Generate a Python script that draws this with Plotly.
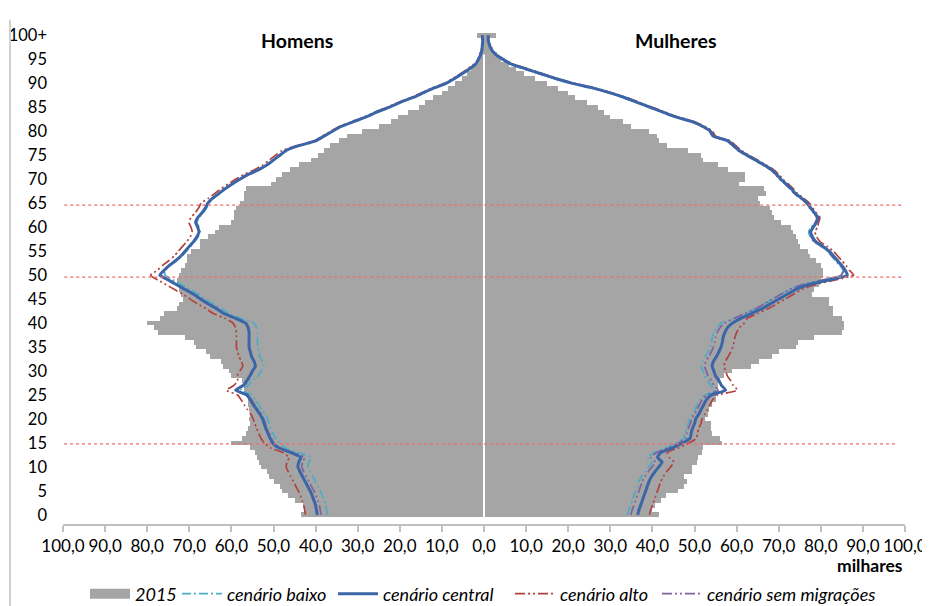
import plotly.graph_objects as go

# ---------------- data (thousands) ----------------
ages = list(range(101))
age_ticks = [0, 5, 10, 15, 20, 25, 30, 35, 40, 45, 50, 55, 60, 65, 70, 75, 80, 85, 90, 95, 100]
age_labels = ["0", "5", "10", "15", "20", "25", "30", "35", "40", "45", "50", "55", "60", "65",
              "70", "75", "80", "85", "90", "95", "100+"]
x_ticks = [-100, -90, -80, -70, -60, -50, -40, -30, -20, -10, 0, 10, 20, 30, 40, 50, 60, 70, 80, 90, 100]
x_labels = ["100,0", "90,0", "80,0", "70,0", "60,0", "50,0", "40,0", "30,0", "20,0", "10,0", "0,0",
            "10,0", "20,0", "30,0", "40,0", "50,0", "60,0", "70,0", "80,0", "90,0", "100,0"]

men_2015 = [43.5, 42.5, 43.0, 45.0, 46.5, 48.0, 48.5, 50.0, 51.0, 51.5,
            53.0, 53.5, 54.0, 54.5, 55.5, 60.0, 57.5, 56.5, 56.0, 55.5,
            55.8, 55.5, 55.8, 56.0, 56.0, 56.5, 57.0, 57.0, 57.5, 60.0,
            60.5, 62.0, 62.5, 65.0, 66.0, 68.5, 69.0, 71.0, 77.5, 78.5,
            80.0, 77.0, 76.0, 73.0, 72.5, 71.5, 72.0, 72.5, 73.0, 73.0,
            72.5, 72.0, 71.0, 70.5, 70.5, 69.5, 67.5, 67.5, 65.5, 64.0,
            63.0, 60.0, 59.5, 59.5, 59.0, 58.0, 57.0, 57.0, 56.5, 50.5,
            49.5, 48.0, 46.0, 44.0, 41.0, 39.5, 38.0, 36.5, 34.5, 32.5,
            29.0, 25.0, 22.0, 20.5, 18.0, 15.5, 14.0, 12.0, 10.0, 8.5,
            7.0, 5.2, 4.0, 3.0, 2.2, 1.6, 1.1, 0.8, 0.5, 0.4, 1.6]

women_2015 = [41.6, 40.0, 40.5, 42.0, 43.2, 46.0, 47.5, 48.3, 47.5, 49.5,
              49.5, 50.5, 50.8, 51.8, 52.0, 56.5, 56.0, 54.2, 54.0, 54.0,
              52.6, 53.2, 53.5, 54.2, 55.0, 55.0, 55.0, 55.5, 56.0, 57.0,
              59.0, 63.5, 65.3, 68.5, 70.0, 74.0, 74.5, 78.5, 85.0, 85.5,
              85.5, 85.0, 83.0, 83.0, 82.0, 82.0, 78.0, 78.5, 79.5, 80.0,
              80.5, 80.5, 80.0, 78.8, 77.5, 77.0, 75.0, 74.5, 74.0, 73.5,
              73.0, 70.5, 69.0, 68.5, 68.0, 65.5, 65.0, 67.0, 66.5, 60.5,
              62.0, 62.0, 58.0, 55.5, 52.0, 51.5, 48.5, 43.5, 41.5, 41.0,
              39.2, 35.0, 33.0, 30.0, 28.5, 27.0, 24.5, 21.5, 20.0, 17.5,
              15.0, 12.0, 9.5, 7.5, 6.0, 4.0, 3.0, 2.2, 1.6, 1.1, 2.9]

men_central = [39.6, 39.8, 40.0, 40.4, 40.8, 41.3, 41.9, 42.5, 43.1, 43.7,
               44.2, 44.0, 43.5, 45.8, 48.8, 50.2, 50.8, 51.3, 51.8, 52.2,
               52.6, 53.2, 54.0, 54.8, 55.5, 56.3, 59.0, 57.2, 56.3, 55.6,
               55.0, 54.3, 54.6, 55.2, 55.5, 55.8, 55.8, 55.8, 55.8, 56.0,
               56.6, 59.0, 61.8, 63.5, 65.5, 67.3, 69.0, 71.0, 73.0, 75.0,
               77.0, 76.0, 74.8, 73.3, 72.0, 71.0, 70.0, 69.0, 68.2, 67.7,
               68.0, 68.5, 68.0, 67.0, 66.2, 65.6, 64.5, 63.0, 61.5, 59.8,
               58.0, 56.0, 53.5, 51.5, 50.0, 48.5, 47.0, 44.0, 40.0, 38.0,
               36.0, 34.0, 31.0, 28.0, 25.5, 22.6, 20.0, 17.0, 14.5, 12.0,
               9.0, 7.0, 5.2, 3.5, 2.0, 1.3, 0.8, 0.5, 0.4, 0.3, 0.4]

men_baixo = [37.2, 37.4, 37.6, 38.0, 38.4, 38.9, 39.5, 40.1, 40.7, 41.3,
             41.8, 41.6, 41.1, 44.2, 47.2, 48.6, 49.6, 50.1, 50.6, 51.0,
             51.4, 52.0, 52.8, 53.6, 54.3, 55.1, 57.8, 56.0, 55.1, 53.6,
             53.0, 52.3, 52.6, 53.2, 53.5, 53.8, 53.8, 53.8, 53.8, 54.0,
             54.6, 57.8, 60.6, 62.3, 64.3, 66.1, 67.8, 69.8, 71.8, 73.8,
             75.8, 75.7, 74.5, 73.0, 71.7, 70.7, 69.7, 68.7, 67.9, 67.4,
             67.7, 68.2, 67.7, 66.7, 65.9, 65.3, 64.4, 62.9, 61.4, 59.7,
             57.9, 55.9, 53.4, 51.4, 49.9, 48.4, 46.9, 43.9, 39.9, 37.9,
             35.9, 33.9, 30.9, 27.9, 25.4, 22.5, 19.9, 16.9, 14.4, 11.9,
             8.9, 6.9, 5.1, 3.4, 1.9, 1.2, 0.7, 0.5, 0.4, 0.3, 0.4]

men_alto = [42.4, 42.6, 42.8, 43.2, 43.6, 44.1, 44.7, 45.3, 45.9, 46.5,
            47.0, 46.8, 46.3, 47.8, 50.8, 52.2, 53.0, 53.5, 54.0, 54.4,
            54.8, 55.4, 56.2, 57.0, 57.7, 58.5, 61.2, 59.4, 58.5, 58.6,
            58.0, 57.3, 57.6, 58.2, 58.5, 58.8, 58.8, 58.8, 58.8, 59.0,
            59.6, 61.5, 64.3, 66.0, 68.0, 69.8, 71.5, 73.5, 75.5, 77.5,
            79.2, 77.6, 76.4, 74.9, 73.6, 72.6, 71.6, 70.6, 69.8, 69.3,
            69.6, 70.1, 69.6, 68.6, 67.8, 67.2, 65.5, 64.0, 62.5, 60.8,
            59.0, 57.0, 54.5, 52.5, 51.0, 49.5, 48.0, 44.4, 40.4, 38.4,
            36.4, 34.4, 31.4, 28.4, 25.9, 23.0, 20.4, 17.4, 14.9, 12.4,
            9.4, 7.4, 5.6, 3.9, 2.4, 1.4, 0.9, 0.6, 0.5, 0.4, 0.5]

men_sem_migr = [38.7, 38.9, 39.1, 39.5, 39.9, 40.4, 41.0, 41.6, 42.2, 42.8,
                43.3, 43.1, 42.6, 45.5, 48.5, 49.9, 50.5, 51.0, 51.5, 51.9,
                52.3, 52.9, 53.7, 54.5, 55.2, 56.0, 58.7, 56.9, 56.0, 55.6,
                55.0, 54.3, 54.6, 55.2, 55.5, 55.8, 55.8, 55.8, 55.8, 56.0,
                56.6, 58.7, 61.5, 63.2, 65.2, 67.0, 68.7, 70.7, 72.7, 74.7,
                76.7, 76.0, 74.8, 73.3, 72.0, 71.0, 70.0, 69.0, 68.2, 67.7,
                68.0, 68.5, 68.0, 67.0, 66.2, 65.6, 64.5, 63.0, 61.5, 59.8,
                58.0, 56.0, 53.5, 51.5, 50.0, 48.5, 47.0, 44.0, 40.0, 38.0,
                36.0, 34.0, 31.0, 28.0, 25.5, 22.6, 20.0, 17.0, 14.5, 12.0,
                9.0, 7.0, 5.2, 3.5, 2.0, 1.3, 0.8, 0.5, 0.4, 0.3, 0.4]

women_central = [36.5, 36.8, 37.2, 37.6, 38.0, 38.4, 38.8, 39.2, 39.8, 40.6,
                 41.5, 42.3, 41.2, 42.0, 44.8, 47.2, 49.0, 49.2, 49.5, 50.0,
                 50.3, 51.0, 51.6, 52.2, 52.8, 54.0, 57.4, 56.4, 55.8, 55.0,
                 54.6, 54.2, 54.5, 55.2, 55.8, 56.3, 56.6, 56.8, 57.2, 57.8,
                 59.0, 61.0, 63.5, 66.0, 68.0, 70.0, 72.0, 74.0, 77.0, 82.0,
                 86.3, 85.8, 85.0, 84.0, 83.0, 82.0, 80.5, 78.8, 78.0, 77.6,
                 78.2, 79.0, 79.3, 78.5, 77.6, 76.8, 75.5, 74.0, 73.0, 71.8,
                 70.5, 69.5, 68.3, 66.5, 64.5, 62.5, 60.6, 59.3, 58.0, 54.5,
                 53.8, 52.0, 49.5, 45.5, 42.5, 39.5, 36.5, 33.5, 30.0, 26.0,
                 21.0, 17.0, 13.5, 10.0, 6.5, 4.5, 2.8, 1.8, 1.3, 1.0, 1.0]

women_baixo = [34.1, 34.4, 34.8, 35.2, 35.6, 36.0, 36.4, 36.8, 37.4, 38.2,
               39.1, 39.9, 38.8, 40.5, 43.3, 45.7, 47.5, 47.7, 48.0, 48.5,
               48.8, 49.5, 50.1, 50.7, 51.3, 52.5, 54.8, 53.8, 53.2, 52.4,
               52.0, 51.6, 51.9, 52.6, 53.2, 53.7, 54.0, 54.2, 54.6, 55.2,
               56.4, 59.5, 62.0, 64.5, 66.5, 68.5, 70.5, 72.5, 75.5, 80.5,
               84.8, 85.3, 84.5, 83.5, 82.5, 81.5, 80.0, 78.3, 77.5, 77.1,
               77.7, 78.8, 79.1, 78.3, 77.4, 76.6, 75.3, 73.8, 72.8, 71.6,
               70.3, 69.3, 68.1, 66.3, 64.3, 62.3, 60.4, 59.1, 57.8, 54.3,
               53.6, 51.8, 49.3, 45.3, 42.3, 39.3, 36.3, 33.3, 29.8, 25.8,
               20.8, 16.8, 13.3, 9.8, 6.3, 4.3, 2.7, 1.7, 1.2, 1.0, 1.0]

women_alto = [39.3, 39.6, 40.0, 40.4, 40.8, 41.2, 41.6, 42.0, 42.6, 43.4,
              44.3, 45.1, 44.0, 43.5, 46.3, 48.7, 50.5, 50.7, 51.0, 51.5,
              51.8, 52.5, 53.1, 53.7, 54.3, 55.5, 60.2, 59.2, 58.6, 57.8,
              57.4, 57.0, 57.3, 58.0, 58.6, 59.1, 59.4, 59.6, 60.0, 60.6,
              61.8, 62.5, 65.0, 67.5, 69.5, 71.5, 73.5, 75.5, 78.5, 83.5,
              87.8, 86.8, 86.0, 85.0, 84.0, 83.0, 81.5, 79.8, 79.0, 78.6,
              79.2, 79.5, 79.8, 79.0, 78.1, 77.3, 76.0, 74.5, 73.5, 72.3,
              71.0, 70.0, 68.8, 67.0, 65.0, 63.0, 61.1, 59.8, 58.5, 55.0,
              54.3, 52.5, 50.0, 46.0, 43.0, 40.0, 37.0, 34.0, 30.5, 26.5,
              21.5, 17.5, 14.0, 10.5, 7.0, 4.8, 3.0, 1.9, 1.4, 1.1, 1.1]

women_sem_migr = [34.9, 35.2, 35.6, 36.0, 36.4, 36.8, 37.2, 37.6, 38.2, 39.0,
                  39.9, 40.7, 39.6, 41.0, 43.8, 46.2, 48.0, 48.2, 48.5, 49.0,
                  49.3, 50.0, 50.6, 51.2, 51.8, 53.0, 55.6, 54.6, 54.0, 53.2,
                  52.8, 52.4, 52.7, 53.4, 54.0, 54.5, 54.8, 55.0, 55.4, 56.0,
                  57.2, 59.5, 62.0, 64.5, 66.5, 68.5, 70.5, 72.5, 75.5, 80.5,
                  84.8, 85.5, 84.7, 83.7, 82.7, 81.7, 80.2, 78.5, 77.7, 77.3,
                  77.9, 78.7, 79.0, 78.2, 77.3, 76.5, 75.2, 73.7, 72.7, 71.5,
                  70.2, 69.2, 68.0, 66.2, 64.2, 62.2, 60.3, 59.0, 57.7, 54.2,
                  53.5, 51.7, 49.2, 45.2, 42.2, 39.2, 36.2, 33.2, 29.7, 25.7,
                  20.7, 16.7, 13.2, 9.7, 6.2, 4.3, 2.7, 1.7, 1.2, 1.0, 1.0]

# ---------------- styling ----------------
FONT = "Lato"
GRAY = "#A5A5A5"
C_BAIXO = "#4BACC6"
C_CENTRAL = "#3B65A7"
C_ALTO = "#B3413D"
C_SEM = "#7F63A1"

# the page body adds an 8px offset; the figure is sized so the plot area lands on
# screen x 63..905 and y 33..524
PLOT_L, PLOT_W = 63, 842   # plot area left edge and width in screen pixels


def both_sides(men, women):
    return [-v for v in men] + [None] + list(women), ages + [None] + ages


def px_to_paper(px):
    return (px - PLOT_L) / PLOT_W


fig = go.Figure()

# 2015 bars (men to the left, women to the right)
fig.add_trace(go.Bar(
    y=ages + ages, x=[-v for v in men_2015] + women_2015, orientation="h",
    width=1, marker=dict(color=GRAY, line=dict(width=0)),
    name="2015", showlegend=False, hoverinfo="skip"))

# legend swatch for 2015 (wide flat gray box like the original)
fig.add_trace(go.Scatter(x=[None], y=[None], mode="lines", name="2015",
                         line=dict(color=GRAY, width=12), legend="legend"))

scen = [
    ("cenário baixo", men_baixo, women_baixo, C_BAIXO, "9px,3px,2px,3px", 1.7, "legend2"),
    ("cenário alto", men_alto, women_alto, C_ALTO, "10px,3px,2px,3px,2px,3px", 1.7, "legend4"),
    ("cenário sem migrações", men_sem_migr, women_sem_migr, C_SEM, "10px,3px,2px,3px,2px,3px", 1.7, "legend5"),
    ("cenário central", men_central, women_central, C_CENTRAL, "solid", 3.0, "legend3"),
]
for name, m, w, col, dash, lw, leg in scen:
    xs, ys = both_sides(m, w)
    fig.add_trace(go.Scatter(
        x=xs, y=ys, mode="lines", name=name, legend=leg,
        line=dict(color=col, width=lw, dash=dash, shape="spline", smoothing=0.5),
        connectgaps=False, hoverinfo="skip"))

shapes = []
# white separation line in the middle of the bars
shapes.append(dict(type="line", xref="x", yref="y", x0=0, x1=0, y0=-0.5, y1=96,
                   line=dict(color="white", width=2), layer="above"))
# red dotted reference lines
for yv, xa, xb in [(64.6, -99.7, 99.3), (49.6, -99.7, 99.3), (14.8, -101.2, 97.9)]:
    shapes.append(dict(type="line", xref="x", yref="y", x0=xa, x1=xb, y0=yv, y1=yv,
                       line=dict(color="#F26B6B", width=1.2, dash="dot"), layer="above"))
# outer frame line on the left
shapes.append(dict(type="line", xref="paper", yref="paper", x0=px_to_paper(10), x1=px_to_paper(10),
                   y0=-0.2, y1=1.027, line=dict(color="#D0D0D0", width=2)))

annotations = [
    dict(text="<b>Homens</b>", x=-44.4, y=99.0, xref="x", yref="y", showarrow=False,
         font=dict(family=FONT, size=19.5, color="#000000")),
    dict(text="<b>Mulheres</b>", x=45.4, y=99.0, xref="x", yref="y", showarrow=False,
         font=dict(family=FONT, size=19.5, color="#000000")),
    dict(text="<b>milhares</b>", x=1.0, y=-0.085, xref="paper", yref="paper",
         xanchor="right", yanchor="middle", showarrow=False,
         font=dict(family=FONT, size=17.5, color="#000000")),
]

FIG_W, FIG_H = 922, 598
legend_font = dict(family=FONT, size=18, color="#000000", style="italic")
leg_y = 1 - (594 - 8) / FIG_H


def legend_at(px):
    return dict(orientation="h", x=px_to_paper(px - 5), xanchor="left", xref="paper",
                y=leg_y, yanchor="middle", yref="container",
                font=legend_font, itemwidth=40, bgcolor="rgba(0,0,0,0)",
                borderwidth=0)


fig.update_layout(
    width=FIG_W, height=FIG_H,
    margin=dict(l=55, r=25, t=25, b=82, autoexpand=False),
    paper_bgcolor="white", plot_bgcolor="white",
    barmode="overlay", bargap=0,
    font=dict(family=FONT, size=16, color="#000000"),
    shapes=shapes, annotations=annotations,
    showlegend=True,
    legend=legend_at(90),
    legend2=legend_at(182),
    legend3=legend_at(338),
    legend4=legend_at(515),
    legend5=legend_at(662),
    xaxis=dict(range=[-100, 100], tickmode="array", tickvals=x_ticks, ticktext=x_labels,
               showgrid=False, zeroline=False, showline=True, linecolor="#BFBFBF", linewidth=1.5,
               ticks="outside", ticklen=6, tickcolor="#BFBFBF", tickwidth=1.5, automargin=False,
               tickfont=dict(family=FONT, size=17, color="#000000"), fixedrange=True),
    yaxis=dict(range=[-1.9, 100.5], tickmode="array", tickvals=age_ticks, ticktext=age_labels,
               showgrid=False, zeroline=False, showline=False, ticks="", automargin=False,
               ticklabelstandoff=15,
               tickfont=dict(family=FONT, size=16.5, color="#000000"), fixedrange=True),
)

fig.write_html("out.html")
